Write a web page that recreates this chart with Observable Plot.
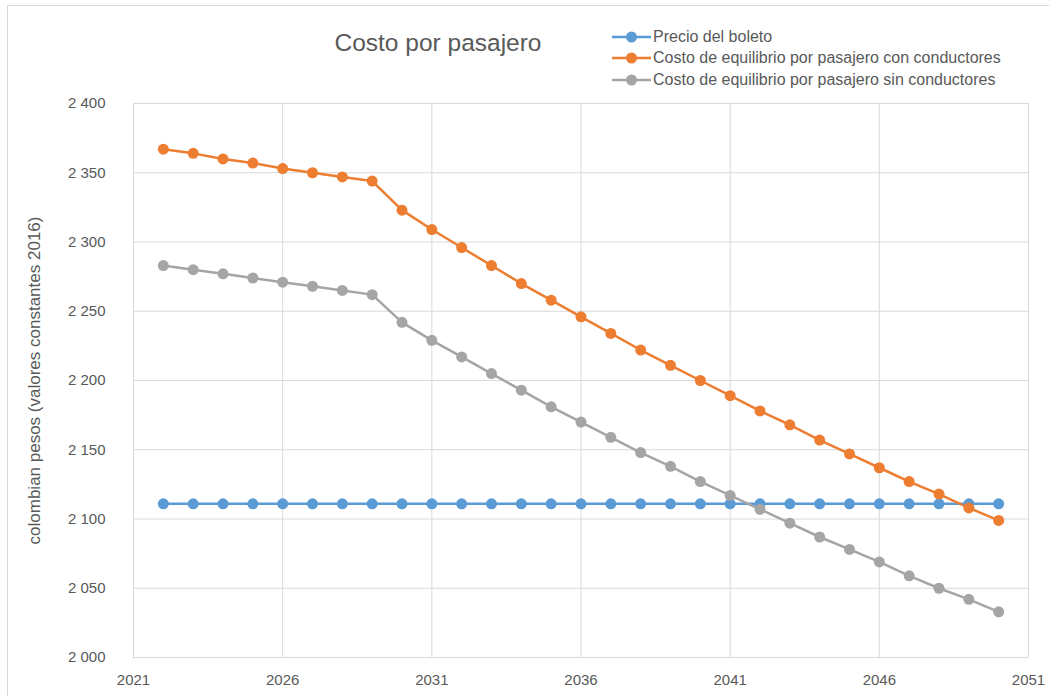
<!DOCTYPE html>
<html>
<head>
<meta charset="utf-8">
<script src="https://cdn.jsdelivr.net/npm/d3@7"></script>
<script src="https://cdn.jsdelivr.net/npm/@observablehq/plot@0.6"></script>
<style>
  html, body { margin: 0; padding: 0; background: #fff; }
  #chart { position: relative; width: 1049px; height: 696px; overflow: hidden; font-family: "Liberation Sans", Arial, sans-serif; color: #595959; }
  #frame { position: absolute; left: 7px; top: 5px; width: 1100px; height: 800px; border-left: 1px solid #d9d9d9; border-top: 1px solid #d9d9d9; pointer-events: none; }
  #header { position: relative; width: 1049px; height: 90px; }
  #title { position: absolute; left: 438px; top: 43px; transform: translate(-50%, -50%); font-size: 24.5px; white-space: nowrap; }
  #legend { position: absolute; left: 612px; top: 26px; font-size: 16px; }
  .lg { display: flex; align-items: center; height: 21.5px; white-space: nowrap; }
  .lg svg { margin-right: 2px; }
  #chart svg.plot { display: block; }
</style>
</head>
<body>
<div id="chart">
  <div id="frame"></div>
  <div id="header">
    <div id="title">Costo por pasajero</div>
    <div id="legend"></div>
  </div>
</div>
<script>
const years = [2022,2023,2024,2025,2026,2027,2028,2029,2030,2031,2032,2033,2034,2035,2036,2037,2038,2039,2040,2041,2042,2043,2044,2045,2046,2047,2048,2049,2050];
const precioBoleto = [2111,2111,2111,2111,2111,2111,2111,2111,2111,2111,2111,2111,2111,2111,2111,2111,2111,2111,2111,2111,2111,2111,2111,2111,2111,2111,2111,2111,2111];
const costoConConductores = [2367,2364,2360,2357,2353,2350,2347,2344,2323,2309,2296,2283,2270,2258,2246,2234,2222,2211,2200,2189,2178,2168,2157,2147,2137,2127,2118,2108,2099];
const costoSinConductores = [2283,2280,2277,2274,2271,2268,2265,2262,2242,2229,2217,2205,2193,2181,2170,2159,2148,2138,2127,2117,2107,2097,2087,2078,2069,2059,2050,2042,2033];
const seriesNames = ["Precio del boleto","Costo de equilibrio por pasajero con conductores","Costo de equilibrio por pasajero sin conductores"];
const seriesColors = ["#5B9BD5","#ED7D31","#A5A5A5"];
const xTicks = [2021,2026,2031,2036,2041,2046,2051];
const yTicks = [2000,2050,2100,2150,2200,2250,2300,2350,2400];
const title = "Costo por pasajero";
const yLabel = "colombian pesos (valores constantes 2016)";

const seriesValues = [precioBoleto, costoConConductores, costoSinConductores];
const data = [];
seriesNames.forEach((name, i) => {
  years.forEach((yr, j) => data.push({serie: name, year: yr, value: seriesValues[i][j]}));
});

const fmt = d3.formatLocale({decimal: ",", thousands: " ", grouping: [3], currency: ["$", ""]}).format(",");

const plot = Plot.plot({
  width: 1049,
  height: 606,
  marginTop: 13,
  marginBottom: 39,
  marginLeft: 133,
  marginRight: 21,
  style: {color: "#595959", fontFamily: "'Liberation Sans', Arial, sans-serif", fontSize: "15px", background: "transparent"},
  x: {domain: [2021, 2051]},
  y: {domain: [2000, 2400]},
  color: {domain: seriesNames, range: seriesColors},
  marks: [
    Plot.gridY(yTicks, {stroke: "#d9d9d9", strokeOpacity: 1, strokeWidth: 1}),
    Plot.gridX(xTicks, {stroke: "#d9d9d9", strokeOpacity: 1, strokeWidth: 1}),
    Plot.axisY(yTicks, {tickSize: 0, tickPadding: 28, tickFormat: fmt, label: null, fontSize: 15}),
    Plot.axisY({label: yLabel, labelAnchor: "center", labelArrow: "none", labelOffset: 106, ticks: [], tickSize: 0, fontSize: 17}),
    Plot.axisX(xTicks, {tickSize: 0, tickPadding: 17, tickFormat: d => String(d), label: null, fontSize: 15}),
    Plot.line(data, {x: "year", y: "value", z: "serie", stroke: "serie", strokeWidth: 2.5}),
    Plot.dot(data, {x: "year", y: "value", fill: "serie", r: 5.5})
  ]
});
document.getElementById("chart").appendChild(plot);

const legend = document.getElementById("legend");
seriesNames.forEach((name, i) => {
  const row = document.createElement("div");
  row.className = "lg";
  row.innerHTML = `<svg width="39" height="14"><line x1="0" x2="39" y1="7" y2="7" stroke="${seriesColors[i]}" stroke-width="2.5"/><circle cx="19.5" cy="7" r="5.5" fill="${seriesColors[i]}"/></svg><span>${name}</span>`;
  legend.appendChild(row);
});
</script>
</body>
</html>
